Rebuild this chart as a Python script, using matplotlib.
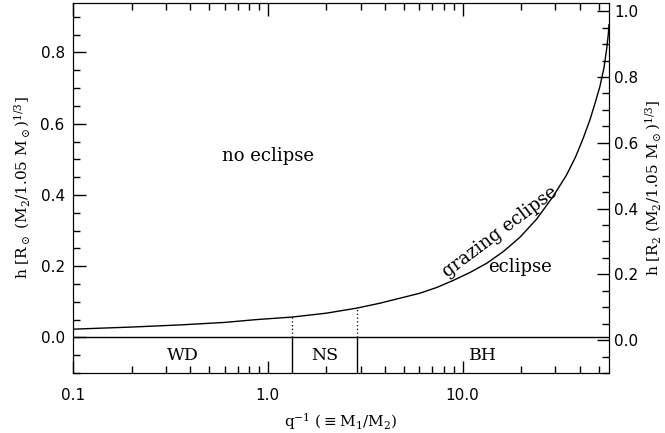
import numpy as np
import matplotlib
matplotlib.use('Agg')
import matplotlib.pyplot as plt
from matplotlib.ticker import FixedLocator, MultipleLocator, NullFormatter

plt.rcParams['mathtext.fontset'] = 'dejavuserif'

# grazing eclipse curve
qinv = [0.1, 0.2, 0.355, 0.6, 0.877, 1.333, 2.0, 2.857, 3.77, 4.77, 6.04,
        7.36, 8.96, 10.9, 13.3, 16.2, 19.7, 24.0, 29.2, 34.2, 38.0, 41.7,
        45.1, 47.8, 50.7, 53.2, 54.9, 56.0, 56.5]
h = [0.023, 0.029, 0.035, 0.042, 0.050, 0.057, 0.068, 0.082, 0.096, 0.110,
     0.124, 0.140, 0.160, 0.182, 0.208, 0.241, 0.281, 0.332, 0.396, 0.456,
     0.506, 0.560, 0.611, 0.656, 0.704, 0.756, 0.808, 0.850, 0.878]

# compact object regions
bounds = [0.1, 1.333, 2.857, 56.5]
regions = ['WD', 'NS', 'BH']

xticks = [0.1, 1.0, 10.0]
xticklabels = ['0.1', '1.0', '10.0']

serif = 'DejaVu Serif'

fig = plt.figure(figsize=(6.65, 4.33), dpi=100)
ax = fig.add_axes([0.1098, 0.1386, 0.8060, 0.8545])

ax.plot(qinv, h, color='k', lw=1)
ax.axhline(0, color='k', lw=1)

for b in bounds[1:3]:
    ax.plot([b, b], [-0.1, 0], color='k', lw=1)
    ax.plot([b, b], [0, h[qinv.index(b)]], color='k', lw=0.9, ls=(0, (1, 2)))

for lo, hi, name in zip(bounds[:-1], bounds[1:], regions):
    ax.text(np.sqrt(lo * hi), -0.05, name, ha='center', va='center',
            fontsize=12.5, family=serif)

ax.text(1.0, 0.51, 'no eclipse', ha='center', va='center', fontsize=13, family=serif)
ax.text(19.7, 0.198, 'eclipse', ha='center', va='center', fontsize=13, family=serif)
ax.text(15.5, 0.295, 'grazing eclipse', ha='center', va='center', fontsize=13,
        family=serif, rotation=37, rotation_mode='anchor')

ax.set_xscale('log')
ax.set_xlim(0.1, 56.5)
ax.set_ylim(-0.1, 0.939)
ax.xaxis.set_major_locator(FixedLocator(xticks))
ax.set_xticklabels(xticklabels)
ax.xaxis.set_minor_locator(FixedLocator(
    [m * 10.0**e for e in (-1, 0, 1) for m in range(2, 10)]))
ax.xaxis.set_minor_formatter(NullFormatter())
ax.yaxis.set_major_locator(MultipleLocator(0.2))
ax.yaxis.set_minor_locator(MultipleLocator(0.05))
ax.yaxis.set_major_formatter(plt.FuncFormatter(lambda v, p: '%.1f' % v))

ax2 = ax.twinx()
ax2.set_ylim(-0.1, 1.025)
ax2.yaxis.set_major_locator(MultipleLocator(0.2))
ax2.yaxis.set_minor_locator(MultipleLocator(0.05))
ax2.yaxis.set_major_formatter(plt.FuncFormatter(lambda v, p: '%.1f' % v))

ax.tick_params(which='both', direction='in', top=True, right=False, labelsize=11)
ax.tick_params(which='major', length=9, width=1)
ax.tick_params(which='minor', length=5, width=1)
ax.tick_params(axis='x', pad=11)
ax.tick_params(axis='y', pad=6)
ax2.tick_params(which='both', direction='in', labelsize=11)
ax2.tick_params(which='major', length=9, width=1)
ax2.tick_params(which='minor', length=5, width=1)

ax.set_xlabel(r'q$^{-1}$ ($\equiv$M$_1$/M$_2$)', fontsize=11, family=serif, labelpad=6)
ax.set_ylabel(r'h [R$_\odot$ (M$_2$/1.05 M$_\odot$)$^{1/3}$]', fontsize=11,
              family=serif, labelpad=6)
ax2.set_ylabel(r'h [R$_2$ (M$_2$/1.05 M$_\odot$)$^{1/3}$]', fontsize=11,
               family=serif, labelpad=4)

fig.savefig('out.png', dpi=100)
